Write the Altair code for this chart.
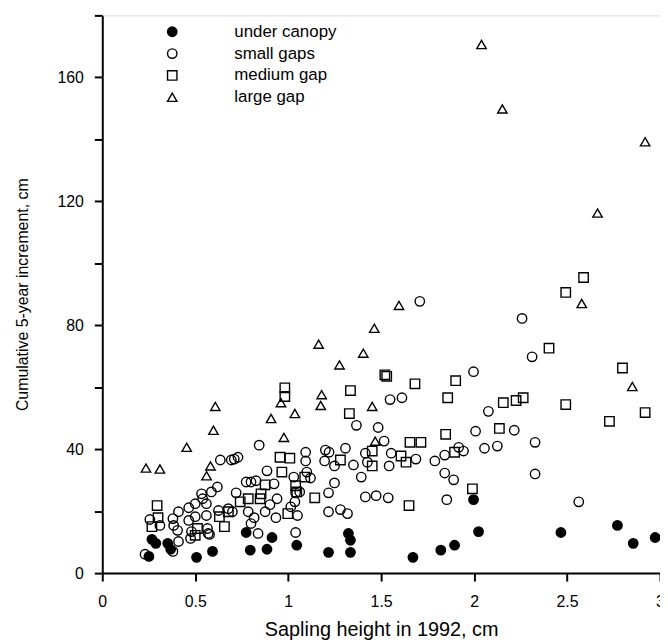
import altair as alt
import pandas as pd

# ---- data ----
canopy_x = [0.251, 0.267, 0.288, 0.352, 0.368, 0.507, 0.593, 0.774, 0.796, 0.886, 0.913,
            1.046, 1.217, 1.324, 1.335, 1.335, 1.671, 1.821, 1.895, 1.997, 2.024, 2.467,
            2.771, 2.856, 2.974]
canopy_y = [5.4, 10.9, 9.6, 9.6, 7.7, 5.1, 7.0, 13.1, 7.4, 7.7, 11.5,
            9.0, 6.7, 12.8, 10.6, 6.7, 5.1, 7.4, 9.0, 23.7, 13.4, 13.1,
            15.4, 9.6, 11.5]

small_x = [0.23, 0.256, 0.31, 0.38, 0.38, 0.41, 0.384, 0.405, 0.41, 0.465, 0.465, 0.48,
           0.475, 0.50, 0.50, 0.534, 0.54, 0.56, 0.566, 0.577, 0.587, 0.619, 0.625, 0.635,
           0.678, 0.694, 0.71, 0.73, 0.72, 0.70, 0.774, 0.785, 0.817, 0.838, 0.844, 0.876,
           0.886, 0.902, 0.924, 0.94, 0.934, 0.80, 0.827, 0.80, 0.56, 0.57,
           1.04, 1.014, 1.036, 1.03, 1.04, 1.094, 1.094, 1.10, 1.12, 1.062, 1.05,
           1.20, 1.22, 1.196, 1.249, 1.308, 1.351, 1.249, 1.217, 1.217, 1.281, 1.319,
           1.367, 1.393, 1.415, 1.426, 1.484, 1.516, 1.543, 1.554, 1.548, 1.612, 1.415,
           1.473, 1.538, 1.708, 1.997, 2.077, 2.008, 1.687, 1.789, 1.842, 1.917, 1.943,
           2.056, 1.842, 1.89, 1.853, 2.258, 2.312, 2.216, 2.125, 2.328, 2.328, 2.563]
small_y = [6.1, 17.3, 15.4, 7.0, 17.6, 19.8, 15.4, 13.8, 10.2, 21.1, 17.0, 13.4,
           11.2, 18.2, 22.4, 25.6, 24.0, 22.4, 14.4, 12.5, 26.2, 27.8, 20.2, 36.5,
           20.8, 36.5, 36.8, 37.4, 25.9, 19.8, 29.4, 19.8, 17.9, 12.8, 41.3, 19.8,
           33.0, 22.1, 28.8, 24.0, 17.9, 29.4, 29.8, 16.0, 18.6, 12.8,
           13.1, 21.4, 23.0, 31.0, 25.9, 39.0, 36.2, 32.6, 30.7, 26.2, 18.6,
           39.7, 39.0, 36.2, 34.6, 40.3, 34.9, 29.1, 25.9, 19.8, 20.5, 19.2,
           47.7, 31.0, 38.7, 35.8, 47.0, 42.6, 34.6, 38.7, 56.0, 56.6, 24.6,
           25.0, 24.3, 87.7, 65.0, 52.2, 45.8, 36.8, 36.2, 38.1, 40.6, 39.4,
           40.3, 32.3, 30.1, 23.7, 82.2, 69.8, 46.1, 41.0, 42.2, 32.0, 23.0]

medium_x = [0.267, 0.295, 0.30, 0.50, 0.512, 0.63, 0.657, 0.678, 0.742, 0.785, 0.849,
            0.854, 0.876, 0.956, 0.966, 0.982, 0.982, 0.998, 1.009, 1.04, 1.046, 1.089,
            1.143, 1.281, 1.329, 1.335, 1.452, 1.452, 1.52, 1.53, 1.607, 1.634, 1.650,
            1.682, 1.655, 1.714, 1.847, 1.858, 1.895, 1.901, 1.991, 2.136, 2.157, 2.226,
            2.264, 2.403, 2.493, 2.493, 2.589, 2.728, 2.798, 2.920]
medium_y = [15.0, 21.8, 17.9, 12.2, 14.4, 18.2, 15.0, 19.8, 23.0, 24.0, 24.0,
            25.6, 28.5, 37.4, 32.6, 59.8, 57.0, 19.2, 37.1, 28.2, 26.2, 31.0,
            24.3, 36.5, 51.5, 58.9, 39.4, 34.6, 64.0, 63.5, 37.8, 35.8, 21.8,
            61.1, 42.2, 42.2, 44.8, 56.6, 39.0, 62.1, 27.2, 46.7, 55.0, 55.7,
            56.6, 72.6, 90.6, 54.4, 95.4, 49.0, 66.2, 51.8]

large_x = [0.235, 0.31, 0.454, 0.561, 0.582, 0.598, 0.608, 0.908, 0.961, 0.977, 1.036,
           1.164, 1.175, 1.180, 1.276, 1.404, 1.452, 1.463, 1.468, 1.596, 2.04, 2.152,
           2.579, 2.664, 2.851, 2.92]
large_y = [33.9, 33.6, 40.6, 31.4, 34.6, 46.1, 53.8, 49.9, 55.0, 43.8, 51.5,
           73.9, 54.1, 57.6, 67.2, 71.0, 53.8, 79.0, 42.6, 86.4, 170.6, 149.8,
           87.0, 116.2, 60.2, 139.2]

groups = ["under canopy", "small gaps", "medium gap", "large gap"]
shapes = ["circle", "circle", "square", "triangle-up"]
fills = ["black", "transparent", "transparent", "transparent"]
strokes = ["black", "black", "black", "black"]

rows = []
for g, xs, ys in zip(groups, [canopy_x, small_x, medium_x, large_x],
                     [canopy_y, small_y, medium_y, large_y]):
    for a, b in zip(xs, ys):
        rows.append({"x": a, "y": b, "group": g})
df = pd.DataFrame(rows)

FONT = "Liberation Sans"


def leg():
    return alt.Legend(title=None, orient="none", legendX=62, legendY=8,
                      labelFont=FONT, labelFontSize=17, labelColor="black",
                      labelOffset=54, rowPadding=4, symbolSize=90,
                      symbolStrokeWidth=1.4, padding=0)


chart = alt.Chart(df).mark_point(
    filled=True, strokeWidth=1.4, size=90, opacity=1
).encode(
    x=alt.X("x:Q", title="Sapling height in 1992, cm",
            scale=alt.Scale(domain=[0, 3], nice=False, zero=True),
            axis=alt.Axis(values=[0, 0.5, 1, 1.5, 2, 2.5, 3], format="~g",
                          grid=False, tickSize=8, tickWidth=2, domainWidth=2,
                          domainColor="black", tickColor="black",
                          labelFontSize=16, labelPadding=13, titleFontSize=20,
                          titlePadding=10, labelFont=FONT, titleFont=FONT,
                          labelColor="black", titleColor="black",
                          titleFontWeight="normal", labelFlush=False)),
    y=alt.Y("y:Q", title="Cumulative 5-year increment, cm",
            scale=alt.Scale(domain=[0, 180], nice=False),
            axis=alt.Axis(values=list(range(0, 181, 20)),
                          labelExpr="(datum.value % 40 == 0 && datum.value < 170) ? datum.label : ''",
                          grid=False, tickSize=8, tickWidth=2, domainWidth=2,
                          domainColor="black", tickColor="black",
                          labelFontSize=16, labelPadding=11, titleFontSize=16,
                          titlePadding=27, labelFont=FONT, titleFont=FONT,
                          labelColor="black", titleColor="black",
                          titleFontWeight="normal", labelFlush=False)),
    shape=alt.Shape("group:N", scale=alt.Scale(domain=groups, range=shapes), legend=leg()),
    fill=alt.Fill("group:N", scale=alt.Scale(domain=groups, range=fills), legend=leg()),
    stroke=alt.Stroke("group:N", scale=alt.Scale(domain=groups, range=strokes), legend=leg()),
).properties(
    width=562, height=562,
    autosize=alt.AutoSizeParams(type="none"),
    padding={"left": 95, "top": 5, "right": 0, "bottom": 70},
).configure_view(stroke=None).configure(background="white")

chart.save("out.html", embed_options={"renderer": "svg", "actions": False})
